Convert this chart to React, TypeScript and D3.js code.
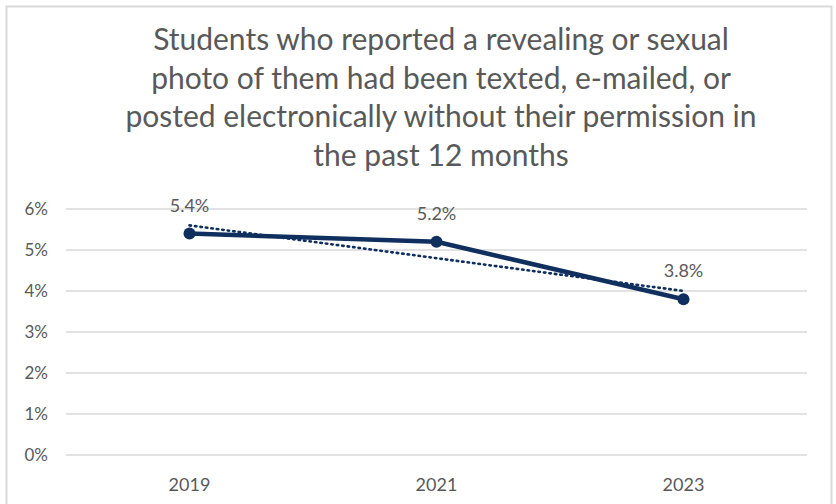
import React from "react";
import * as d3 from "d3";

const years = ["2019", "2021", "2023"];
const values = [5.4, 5.2, 3.8];
const yTicks = [0, 1, 2, 3, 4, 5, 6];
const titleLines = [
  "Students who reported a revealing or sexual",
  "photo of them had been texted, e-mailed, or",
  "posted electronically without their permission in",
  "the past 12 months",
];

const W = 836;
const H = 504;
const navy = "#0f2f5f";
const grey = "#595959";
const font = "Lato, 'Open Sans', sans-serif";

export default function App() {
  const x = d3.scaleBand<string>().domain(years).range([66, 807]);
  const y = d3.scaleLinear().domain([0, 6]).range([455, 209]);
  const cx = (d: string) => (x(d) as number) + x.bandwidth() / 2;

  // linear trendline (least squares)
  const idx = values.map((_, i) => i + 1);
  const mx = d3.mean(idx) as number;
  const my = d3.mean(values) as number;
  const slope =
    d3.sum(idx.map((v, i) => (v - mx) * (values[i] - my))) /
    d3.sum(idx.map((v) => (v - mx) * (v - mx)));
  const intercept = my - slope * mx;
  const trend = years.map((yr, i) => ({ yr, v: intercept + slope * (i + 1) }));

  const line = d3
    .line<{ yr: string; v: number }>()
    .x((d) => cx(d.yr))
    .y((d) => y(d.v));
  const pts = years.map((yr, i) => ({ yr, v: values[i] }));

  return (
    <svg width={W} height={H} style={{ position: "absolute", left: 0, top: 0, background: "#fff" }}>
      <rect x={6.5} y={6.5} width={825} height={H + 10} fill="#fff" stroke="#d9d9d9" strokeWidth={2} />
      {titleLines.map((t, i) => (
        <text
          key={i}
          x={441}
          y={50 + i * 38.5}
          textAnchor="middle"
          fontFamily={font}
          fontSize={30}
          fill={grey}
        >
          {t}
        </text>
      ))}
      {yTicks.map((t) => (
        <g key={t}>
          <line x1={66} x2={807} y1={y(t)} y2={y(t)} stroke="#d9d9d9" strokeWidth={1.5} />
          <text
            x={48}
            y={y(t) + 6}
            textAnchor="end"
            fontFamily={font}
            fontSize={17}
            fill={grey}
          >
            {t}%
          </text>
        </g>
      ))}
      {years.map((yr) => (
        <text
          key={yr}
          x={cx(yr)}
          y={491}
          textAnchor="middle"
          fontFamily={font}
          fontSize={18}
          fill={grey}
        >
          {yr}
        </text>
      ))}
      <path d={line(trend) as string} fill="none" stroke={navy} strokeWidth={2.6} strokeDasharray="1.5 4" strokeLinecap="round" />
      <path d={line(pts) as string} fill="none" stroke={navy} strokeWidth={4.5} strokeLinejoin="round" />
      {pts.map((p) => (
        <circle key={p.yr} cx={cx(p.yr)} cy={y(p.v)} r={6} fill={navy} />
      ))}
      {pts.map((p) => (
        <text
          key={"l" + p.yr}
          x={cx(p.yr)}
          y={y(p.v) - 22}
          textAnchor="middle"
          fontFamily={font}
          fontSize={18}
          fill={grey}
        >
          {p.v.toFixed(1)}%
        </text>
      ))}
    </svg>
  );
}
